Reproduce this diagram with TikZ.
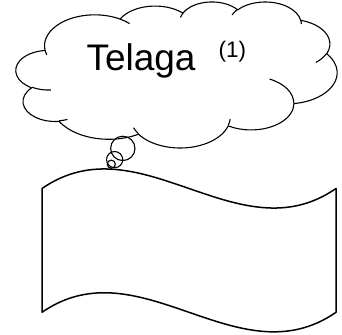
\documentclass[tikz,border=0pt]{standalone}
\usepackage{fontspec}
\setmainfont{Liberation Sans}
\begin{document}
\begin{tikzpicture}[x=1pt,y=1pt,
  cloudline/.style={draw=black,line width=1.1pt,line join=round},
  flagline/.style={draw=black,line width=1.5pt,line join=round},
  bubble/.style={draw=black,line width=1.1pt},
  label/.style={inner sep=0pt,outer sep=0pt,anchor=base west}]
\useasboundingbox (0,0) rectangle (342,-334);
% cloud (DrawingML cloud path, local units = 1/100 of 43200 grid)
\begin{scope}[shift={(16,-1.5)},xscale=0.74306,yscale=-0.33796]
\draw[cloudline,fill=white] (39.00,143.70)
  arc[start angle=172.25,end angle=300.37,x radius=67.53pt,y radius=91.90pt]
  arc[start angle=-152.04,end angle=-45.46,x radius=53.33pt,y radius=72.67pt]
  arc[start angle=-153.50,end angle=-37.32,x radius=43.65pt,y radius=59.45pt]
  arc[start angle=-139.71,end angle=-10.21,x radius=48.57pt,y radius=65.95pt]
  arc[start angle=-74.77,end angle=23.21,x radius=53.33pt,y radius=72.73pt]
  arc[start angle=-37.52,end angle=81.86,x radius=67.75pt,y radius=92.20pt]
  arc[start angle=0.46,end angle=121.98,x radius=57.85pt,y radius=78.67pt]
  arc[start angle=16.85,end angle=146.23,x radius=67.52pt,y radius=92.15pt]
  arc[start angle=58.98,end angle=150.19,x radius=77.20pt,y radius=105.43pt]
  arc[start angle=83.31,end angle=223.09,x radius=43.60pt,y radius=59.18pt]
  arc[start angle=120.36,end angle=264.11,x radius=43.45pt,y radius=59.45pt]
  -- cycle;
\draw[cloudline]
  (46.93,261.77) arc[start angle=85.55,end angle=120.36,x radius=43.45pt,y radius=59.45pt]
  (69.28,348.99) arc[start angle=68.23,end angle=83.31,x radius=43.60pt,y radius=59.18pt]
  (164.78,390.90) arc[start angle=146.23,end angle=158.47,x radius=67.52pt,y radius=92.15pt]
  (288.27,347.51) arc[start angle=4.74,end angle=16.85,x radius=67.52pt,y radius=92.15pt]
  (341.29,229.54) arc[start angle=-64.03,end angle=0.46,x radius=57.85pt,y radius=78.67pt]
  (417.98,153.54) arc[start angle=23.21,end angle=49.64,x radius=53.33pt,y radius=72.73pt]
  (383.24,54.26) arc[start angle=-10.21,end angle=0.82,x radius=48.57pt,y radius=65.95pt]
  (290.78,39.52) arc[start angle=-156.29,end angle=-139.71,x radius=48.57pt,y radius=65.95pt]
  (221.41,47.20) arc[start angle=-167.73,end angle=-153.50,x radius=43.65pt,y radius=59.45pt]
  (140.00,51.92) arc[start angle=-59.63,end angle=-45.74,x radius=67.53pt,y radius=91.90pt]
  (41.27,157.89) arc[start angle=163.20,end angle=172.25,x radius=67.53pt,y radius=91.90pt];
\end{scope}
% thought bubbles
\draw[bubble] (122.8,-148.4) circle[radius=12.17];
\draw[bubble] (114.65,-159.6) circle[radius=8.11];
\draw[bubble] (111.3,-164.2) circle[radius=4.06];
% texts
\node[label,font=\fontsize{37}{37}\selectfont] (title) at (86.5,-71) {Telaga};
\node[label,font=\fontsize{22.5}{22.5}\selectfont] (note) at (218.7,-57.3) {(1)};
% wave flag
\draw[flagline] (42,-188.5) .. controls (140,-120.8) and (238,-256.2) .. (336,-188.5)
  -- (336,-312.3) .. controls (238,-380) and (140,-244.6) .. (42,-312.3) -- cycle;
\end{tikzpicture}
\end{document}
